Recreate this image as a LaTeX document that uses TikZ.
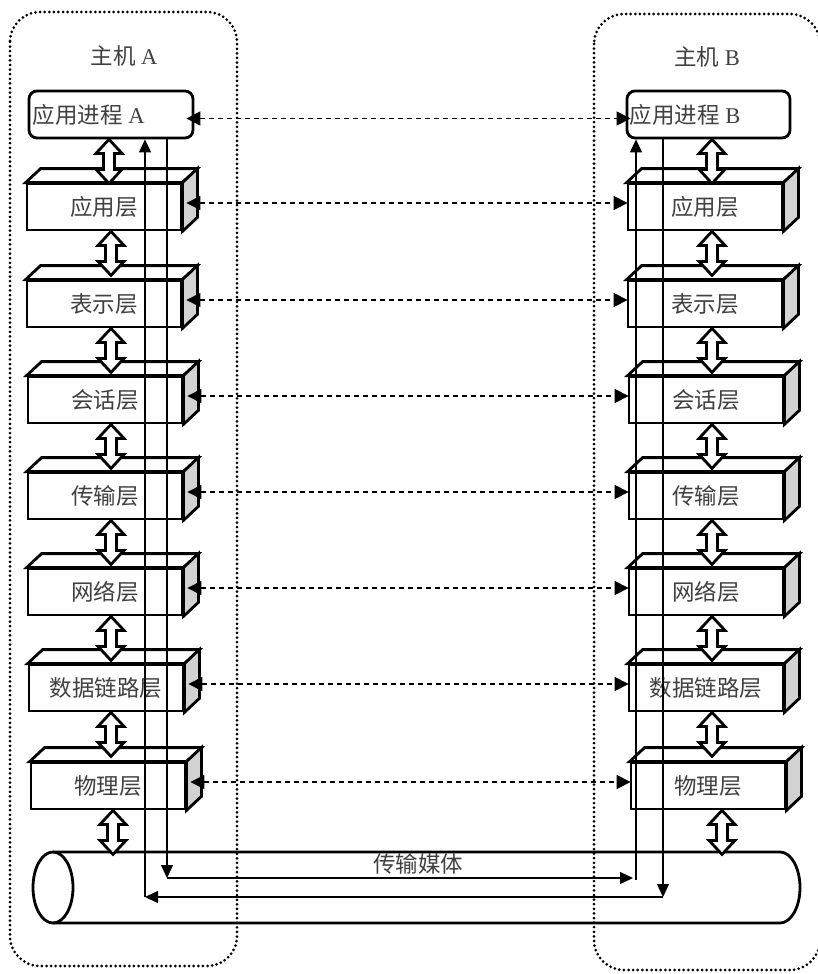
\documentclass[tikz,border=0pt]{standalone}
\usepackage{fontspec}
\setmainfont{Liberation Serif}
\newfontfamily\cjk{Noto Sans CJK SC}
\usetikzlibrary{arrows.meta,calc}
\definecolor{sidegray}{HTML}{D2D2D2}
\definecolor{txt}{HTML}{404040}
\tikzset{
  host/.style={line width=3pt, dash pattern=on 0pt off 4.6pt, line cap=round, rounded corners=30pt},
  layer/.style={draw, line width=2.8pt, fill=white, minimum width=154pt, minimum height=46pt, inner sep=0pt,
                text=txt, font=\cjk\fontsize{22.5}{26}\selectfont},
  proc/.style={draw, line width=2.8pt, fill=white, rounded corners=8pt, minimum height=47pt, inner sep=0pt},
  face/.style={line width=2.8pt, line join=miter, fill=white},
  dbl/.style={line width=2.8pt, fill=white, line join=miter},
  dasharr/.style={line width=1.2pt, dash pattern=on 5pt off 4pt,
                  {Triangle[length=14pt,width=14pt]}-{Triangle[length=14pt,width=14pt]}},
  tarr/.style={line width=1.2pt, -{Triangle[length=13pt,width=12pt]}},
  lbl/.style={text=txt, inner sep=0pt, font=\fontsize{22.5}{26}\selectfont},
}
\newcommand\boxfaces[1]{%
  \draw[face] (#1.north west) -- ++(15,-14) -- ([shift={(15,-14)}]#1.north east) -- (#1.north east) -- cycle;
  \draw[face, fill=sidegray] (#1.north east) -- ++(15,-14) -- ([shift={(15,-14)}]#1.south east) -- (#1.south east) -- cycle;}
\newcommand\dblarrow[1]{%
  \draw[dbl] #1 -- ++(13,14) -- ++(-7.5,0) -- ++(0,16) -- ++(7.5,0) -- ++(-13,14)
     -- ++(-13,-14) -- ++(7.5,0) -- ++(0,-16) -- ++(-7.5,0) -- cycle;}
\begin{document}
\begin{tikzpicture}[x=1pt,y=-1pt]
\useasboundingbox (0,0) rectangle (818,974);
% hosts
\draw[host] (10,12) rectangle (237,966);
\draw[host] (594,14) rectangle (820,970);
\node[lbl] (hA) at (124,56) {{\cjk 主机} A};
\node[lbl] (hB) at (707,57) {{\cjk 主机} B};
% application processes
\node[proc, minimum width=164pt] (PA) at (111,114.5) {};
\node[proc, minimum width=163pt] (PB) at (708.5,114.5) {};
\node[lbl, anchor=west] (tPA) at ([xshift=5pt]PA.west) {{\cjk 应用进程} A};
\node[lbl, anchor=west] (tPB) at ([xshift=4pt]PB.west) {{\cjk 应用进程} B};
% layers
\foreach \i/\t/\y/\xl/\xr in {1/应用层/184/104/705, 2/表示层/281/104/705, 3/会话层/377/105/706,
    4/传输层/473/105/706, 5/网络层/569/105/706, 6/数据链路层/665/106/706, 7/物理层/763/108/708}{
  \node[layer] (L\i) at (\xl,\y+23) {\t};
  \boxfaces{L\i}
  \node[layer] (R\i) at (\xr,\y+23) {\t};
  \boxfaces{R\i}
}
% medium (cylinder)
\draw[line width=2.8pt] (53,852) -- (780,852) arc[start angle=-90, end angle=90, x radius=20, y radius=35.5] -- (53,923);
\draw[line width=2.8pt] (53,887.5) ellipse[x radius=20, y radius=35.5];
\node[lbl, font=\cjk\fontsize{22.5}{26}\selectfont] (med) at (418,864) {传输媒体};
% hollow double arrows
\dblarrow{(PA.south -| 109,0)}
\dblarrow{(PB.south -| 712,0)}
\foreach \i in {1,...,6}{
  \dblarrow{(L\i.south -| 111,0)}
  \dblarrow{(R\i.south -| 712,0)}
}
\dblarrow{(L7.south -| 113,0)}
\dblarrow{(R7.south -| 722,0)}
% dashed peer arrows
\draw[dasharr] ([shift={(-8,4)}]PA.east) -- ([shift={(5,4)}]PB.west);
\foreach \i in {1,...,7}{
  \draw[dasharr] ([shift={(4,-4)}]L\i.east) -- ([shift={(1,-4)}]R\i.west);
}
% data path
\coordinate (d1) at (167,878);
\coordinate (d2) at (633,878);
\coordinate (d3) at (636,880);
\coordinate (d4) at (663,897);
\coordinate (d5) at (145,897);
\draw[tarr] (PA.south -| d1) -- (d1);
\draw[tarr] (d1) -- (d2);
\draw[tarr] (d3) -- (PB.south -| d3);
\draw[tarr] (PB.south -| d4) -- (d4);
\draw[tarr] (d4) -- (d5);
\draw[tarr] (d5) -- (PA.south -| d5);
\end{tikzpicture}
\end{document}
